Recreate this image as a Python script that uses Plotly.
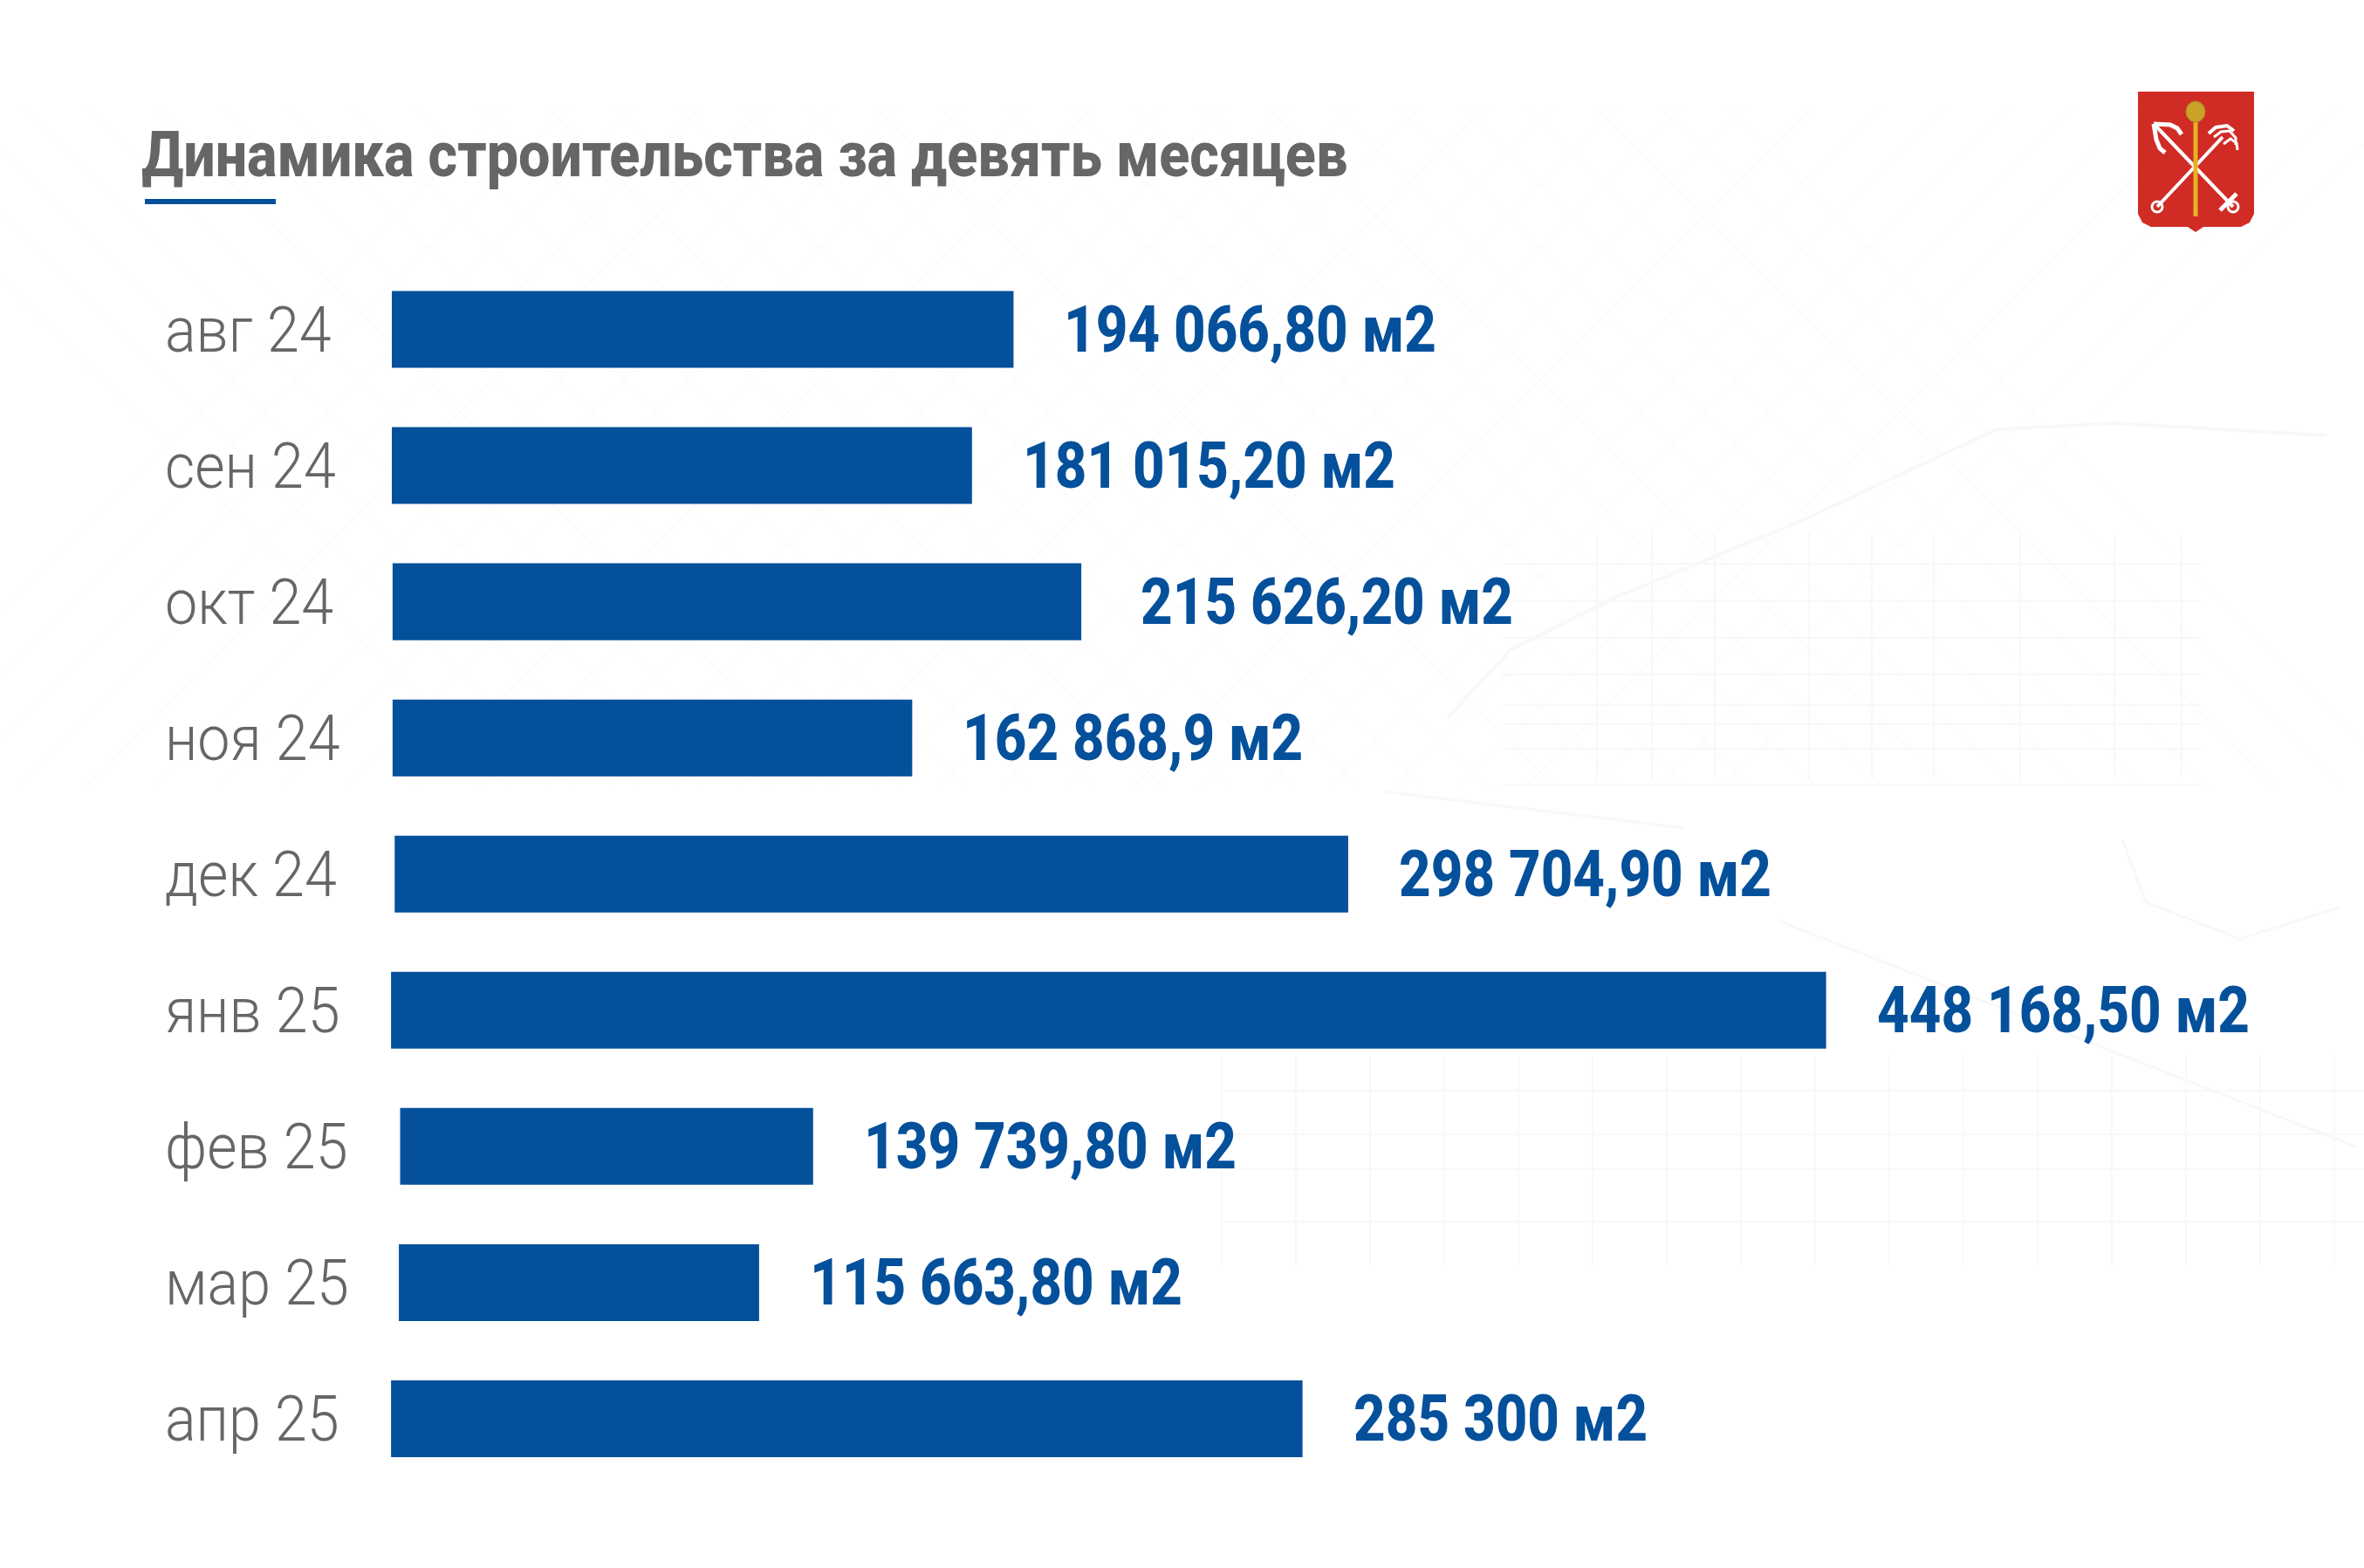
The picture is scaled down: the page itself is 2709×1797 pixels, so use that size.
import plotly.graph_objects as go

# Values as printed on the chart
months = ['авг 24', 'сен 24', 'окт 24', 'ноя 24', 'дек 24', 'янв 25', 'фев 25', 'мар 25', 'апр 25']
labels = ['194 066,80 м2', '181 015,20 м2', '215 626,20 м2', '162 868,9 м2', '298 704,90 м2',
          '448 168,50 м2', '139 739,80 м2', '115 663,80 м2', '285 300 м2']

# Bars as drawn in the picture, read off in m2 (they do not all start at zero,
# and a few lengths differ from the printed value)
bar_start = [0, 0, 240, 240, 900, -240, 2600, 2200, -240]
bar_end = [194500, 181500, 215700, 162800, 299200, 448700, 131800, 114900, 284900]

WIDTH, HEIGHT = 2709, 1797
BLUE = '#04509b'
GREY = '#666666'
FONT = 'Roboto'

M2_PER_PX = 273.0
ZERO_PX = 449


def px(x):
    return x / WIDTH


def py(y):
    return 1 - y / HEIGHT


def path(points, close=True):
    d = 'M ' + ' L '.join(f'{px(x):.5f},{py(y):.5f}' for x, y in points)
    return d + (' Z' if close else '')


def stroke(points, color='white', width=3, layer='above'):
    return dict(type='path', xref='paper', yref='paper', path=path(points, close=False),
                line=dict(color=color, width=width), layer=layer)


def ring(cx, cy, rx, ry=None, **kw):
    ry = ry or rx
    return dict(type='circle', xref='paper', yref='paper', x0=px(cx - rx), x1=px(cx + rx),
                y0=py(cy + ry), y1=py(cy - ry), **kw)


fig = go.Figure()
fig.add_trace(go.Bar(
    y=months,
    x=[e - s for s, e in zip(bar_start, bar_end)],
    base=bar_start,
    orientation='h',
    marker=dict(color=BLUE, line=dict(width=0)),
    hoverinfo='skip',
))

for month, label, end in zip(months, labels, bar_end):
    fig.add_annotation(x=end, y=month, text=label, showarrow=False, xanchor='left', yanchor='middle',
                       xshift=66 if month == 'окт 24' else 56,
                       font=dict(family=FONT, size=74, color=BLUE, weight=800))
    fig.add_annotation(x=px(187), xref='paper', y=month, text=month, showarrow=False,
                       xanchor='left', yanchor='middle',
                       font=dict(family=FONT, size=73, color=GREY, weight=300))

fig.add_annotation(x=px(160), xref='paper', y=py(177), yref='paper', text='Динамика строительства за девять месяцев',
                   showarrow=False, xanchor='left', yanchor='middle',
                   font=dict(family=FONT, size=72, color=GREY, weight=800))

# faint street map behind the chart, only a rough impression of it
MAP = '#f8f8f8'
MAP2 = '#fcfcfc'
shapes = []
for c in range(-200, 2000, 75):
    shapes.append(stroke([(c, 120), (c + 780, 900)], color=MAP2, width=2, layer='below'))
    shapes.append(stroke([(c + 780, 120), (c, 900)], color=MAP2, width=2, layer='below'))
for x in [1830, 1893, 1965, 2073, 2145, 2216, 2315, 2423, 2500]:
    shapes.append(stroke([(x, 611), (x, 893)], color=MAP, width=2, layer='below'))
for y in [646, 689, 731, 773, 808, 830, 858, 900]:
    shapes.append(stroke([(1722, y), (2522, y)], color=MAP, width=2, layer='below'))
for x in range(1400, 2709, 85):
    shapes.append(stroke([(x, 1210), (x, 1450)], color=MAP, width=2, layer='below'))
for y in [1250, 1300, 1340, 1400]:
    shapes.append(stroke([(1400, y), (2709, y)], color=MAP, width=2, layer='below'))
shapes += [
    stroke([(1659, 822), (1731, 745), (1857, 682), (2064, 597), (2288, 492), (2423, 485), (2666, 499)],
           color=MAP, width=4, layer='below'),
    stroke([(2037, 1055), (2198, 1118), (2702, 1315)], color=MAP, width=3, layer='below'),
    stroke([(1587, 907), (1929, 949)], color=MAP, width=3, layer='below'),
    stroke([(2432, 963), (2459, 1034), (2567, 1076), (2680, 1040)], color=MAP, width=3, layer='below'),
]

# title underline
shapes.append(dict(type='rect', xref='paper', yref='paper', x0=px(166), x1=px(316), y0=py(228), y1=py(234),
                   fillcolor=BLUE, line_width=0))

# coat of arms, top right
RED = '#d02c25'
GOLD = '#e8b320'
shield = [(2450, 105), (2583, 105), (2583, 245), (2578, 255), (2568, 260), (2525, 260), (2516, 266),
          (2507, 260), (2465, 260), (2455, 255), (2450, 245)]
shapes.append(dict(type='path', xref='paper', yref='paper', path=path(shield), fillcolor=RED, line_width=0))
shapes += [
    stroke([(2470, 144), (2559, 237)], width=4),
    stroke([(2472, 237), (2547, 157)], width=4),
    stroke([(2468, 142), (2487, 143), (2495, 147), (2500, 154)], width=5),
    stroke([(2468, 142), (2471, 160), (2475, 170), (2481, 175)], width=5),
    stroke([(2531, 153), (2539, 146), (2552, 144), (2560, 150)], width=4),
    stroke([(2537, 157), (2545, 151), (2555, 150), (2562, 158), (2562, 166)], width=3),
    stroke([(2548, 165), (2556, 159), (2563, 164), (2564, 172)], width=3),
    stroke([(2544, 241), (2563, 222)], width=5),
    ring(2472, 237, 6, line=dict(color='white', width=3)),
    ring(2559, 237, 6, line=dict(color='white', width=3)),
    stroke([(2516, 140), (2516, 248)], color=GOLD, width=5),
    ring(2516, 128, 11, 12, fillcolor='#c9a227', line=dict(color='#a8861e', width=1)),
]

fig.update_layout(
    width=WIDTH,
    height=HEIGHT,
    margin=dict(l=0, r=0, t=0, b=0),
    paper_bgcolor='white',
    plot_bgcolor='rgba(0,0,0,0)',
    showlegend=False,
    bargap=0.436,
    shapes=shapes,
)
fig.update_xaxes(visible=False, range=[-ZERO_PX * M2_PER_PX, (WIDTH - ZERO_PX) * M2_PER_PX])
fig.update_yaxes(visible=False, categoryorder='array', categoryarray=months, range=[9.096, -2.419])

# the reference font is a condensed one, none is installed: squeeze the text sideways
squeeze = """
document.body.style.margin='0';document.body.style.overflow='hidden';
document.querySelectorAll('.annotation-text').forEach(function(t){
  var size = parseFloat(t.style.fontSize);
  var k = size == 74 ? 0.86 : size == 73 ? 0.91 : 0.898;
  var b = t.getBBox();
  t.setAttribute('transform', 'translate(' + (b.x * (1 - k)) + ',0) scale(' + k + ',1)');
});
"""
fig.write_html('out.html', post_script=squeeze, config=dict(displayModeBar=False))
